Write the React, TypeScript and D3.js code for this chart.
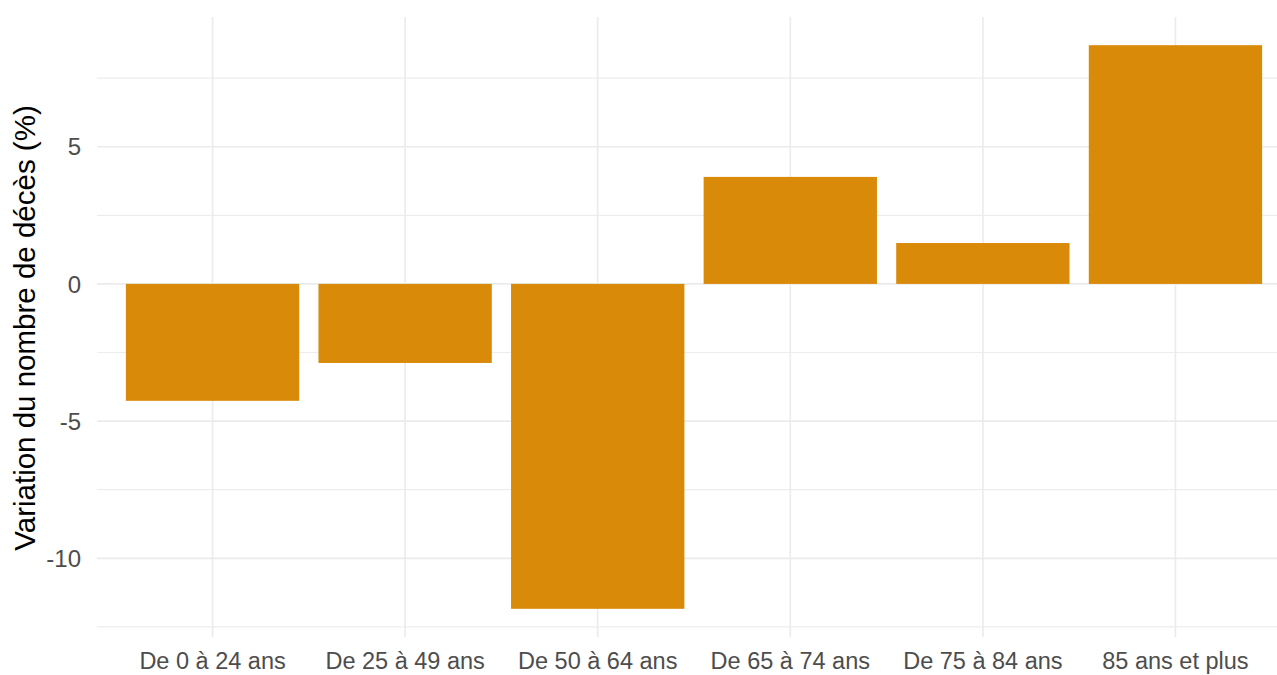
import * as d3 from 'd3';
import React, { useRef, useEffect } from 'react';

const categories = ['De 0 à 24 ans', 'De 25 à 49 ans', 'De 50 à 64 ans', 'De 65 à 74 ans', 'De 75 à 84 ans', '85 ans et plus'];
const variations = [-4.26, -2.88, -11.84, 3.9, 1.49, 8.7];
const majorTicks = [-10, -5, 0, 5];
const minorTicks = [-12.5, -7.5, -2.5, 2.5, 7.5];

const App = () => {
  const ref = useRef<SVGSVGElement>(null);

  const width = 1277;
  const height = 675;
  const panel = { left: 97, right: 1291, top: 17, bottom: 637 };

  useEffect(() => {
    const svg = d3.select(ref.current);
    svg.selectAll('*').remove();

    // x: discrete scale with ggplot-like expansion
    const x = d3.scaleBand()
      .domain(categories)
      .range([panel.left, panel.right])
      .paddingInner(0.1)
      .paddingOuter(0.15);

    // y: data range expanded by 5%
    const lo = d3.min(variations) as number;
    const hi = d3.max(variations) as number;
    const pad = (hi - lo) * 0.05;
    const y = d3.scaleLinear()
      .domain([lo - pad, hi + pad])
      .range([panel.bottom, panel.top]);

    const grid = svg.append('g');
    // minor gridlines
    grid.selectAll('.minor')
      .data(minorTicks)
      .join('line')
      .attr('x1', panel.left).attr('x2', panel.right)
      .attr('y1', (d) => y(d)).attr('y2', (d) => y(d))
      .attr('stroke', '#ededed').attr('stroke-width', 1.2);
    // major gridlines
    grid.selectAll('.major')
      .data(majorTicks)
      .join('line')
      .attr('x1', panel.left).attr('x2', panel.right)
      .attr('y1', (d) => y(d)).attr('y2', (d) => y(d))
      .attr('stroke', '#ebebeb').attr('stroke-width', 1.6);
    grid.selectAll('.vert')
      .data(categories)
      .join('line')
      .attr('x1', (d) => (x(d) as number) + x.bandwidth() / 2)
      .attr('x2', (d) => (x(d) as number) + x.bandwidth() / 2)
      .attr('y1', panel.top).attr('y2', panel.bottom)
      .attr('stroke', '#ebebeb').attr('stroke-width', 1.6);

    // bars
    svg.append('g')
      .selectAll('rect')
      .data(variations)
      .join('rect')
      .attr('x', (d, i) => x(categories[i]) as number)
      .attr('width', x.bandwidth())
      .attr('y', (d) => y(Math.max(0, d)))
      .attr('height', (d) => Math.abs(y(d) - y(0)))
      .attr('fill', '#D98A08');

    // y tick labels
    svg.append('g')
      .selectAll('text')
      .data(majorTicks)
      .join('text')
      .attr('x', 81)
      .attr('y', (d) => y(d))
      .attr('dy', '0.36em')
      .attr('text-anchor', 'end')
      .style('font-family', 'Liberation Sans, Arial, sans-serif')
      .style('font-size', '24px')
      .style('fill', '#4d4d4d')
      .text((d) => String(d));

    // x tick labels
    svg.append('g')
      .selectAll('text')
      .data(categories)
      .join('text')
      .attr('x', (d) => (x(d) as number) + x.bandwidth() / 2)
      .attr('y', 669)
      .attr('text-anchor', 'middle')
      .style('font-family', 'Liberation Sans, Arial, sans-serif')
      .style('font-size', '23.5px')
      .style('fill', '#4d4d4d')
      .text((d) => d);

    // y axis title
    svg.append('text')
      .attr('transform', 'translate(35,' + ((panel.top + panel.bottom) / 2 + 1) + ') rotate(-90)')
      .attr('text-anchor', 'middle')
      .style('font-family', 'Liberation Sans, Arial, sans-serif')
      .style('font-size', '29.5px')
      .style('fill', '#000')
      .text('Variation du nombre de décès (%)');
  });

  return (
    <svg
      ref={ref}
      width={width}
      height={height}
      style={{ position: 'absolute', left: 0, top: 0, background: '#fff' }}
    ></svg>
  );
};

export default App;
